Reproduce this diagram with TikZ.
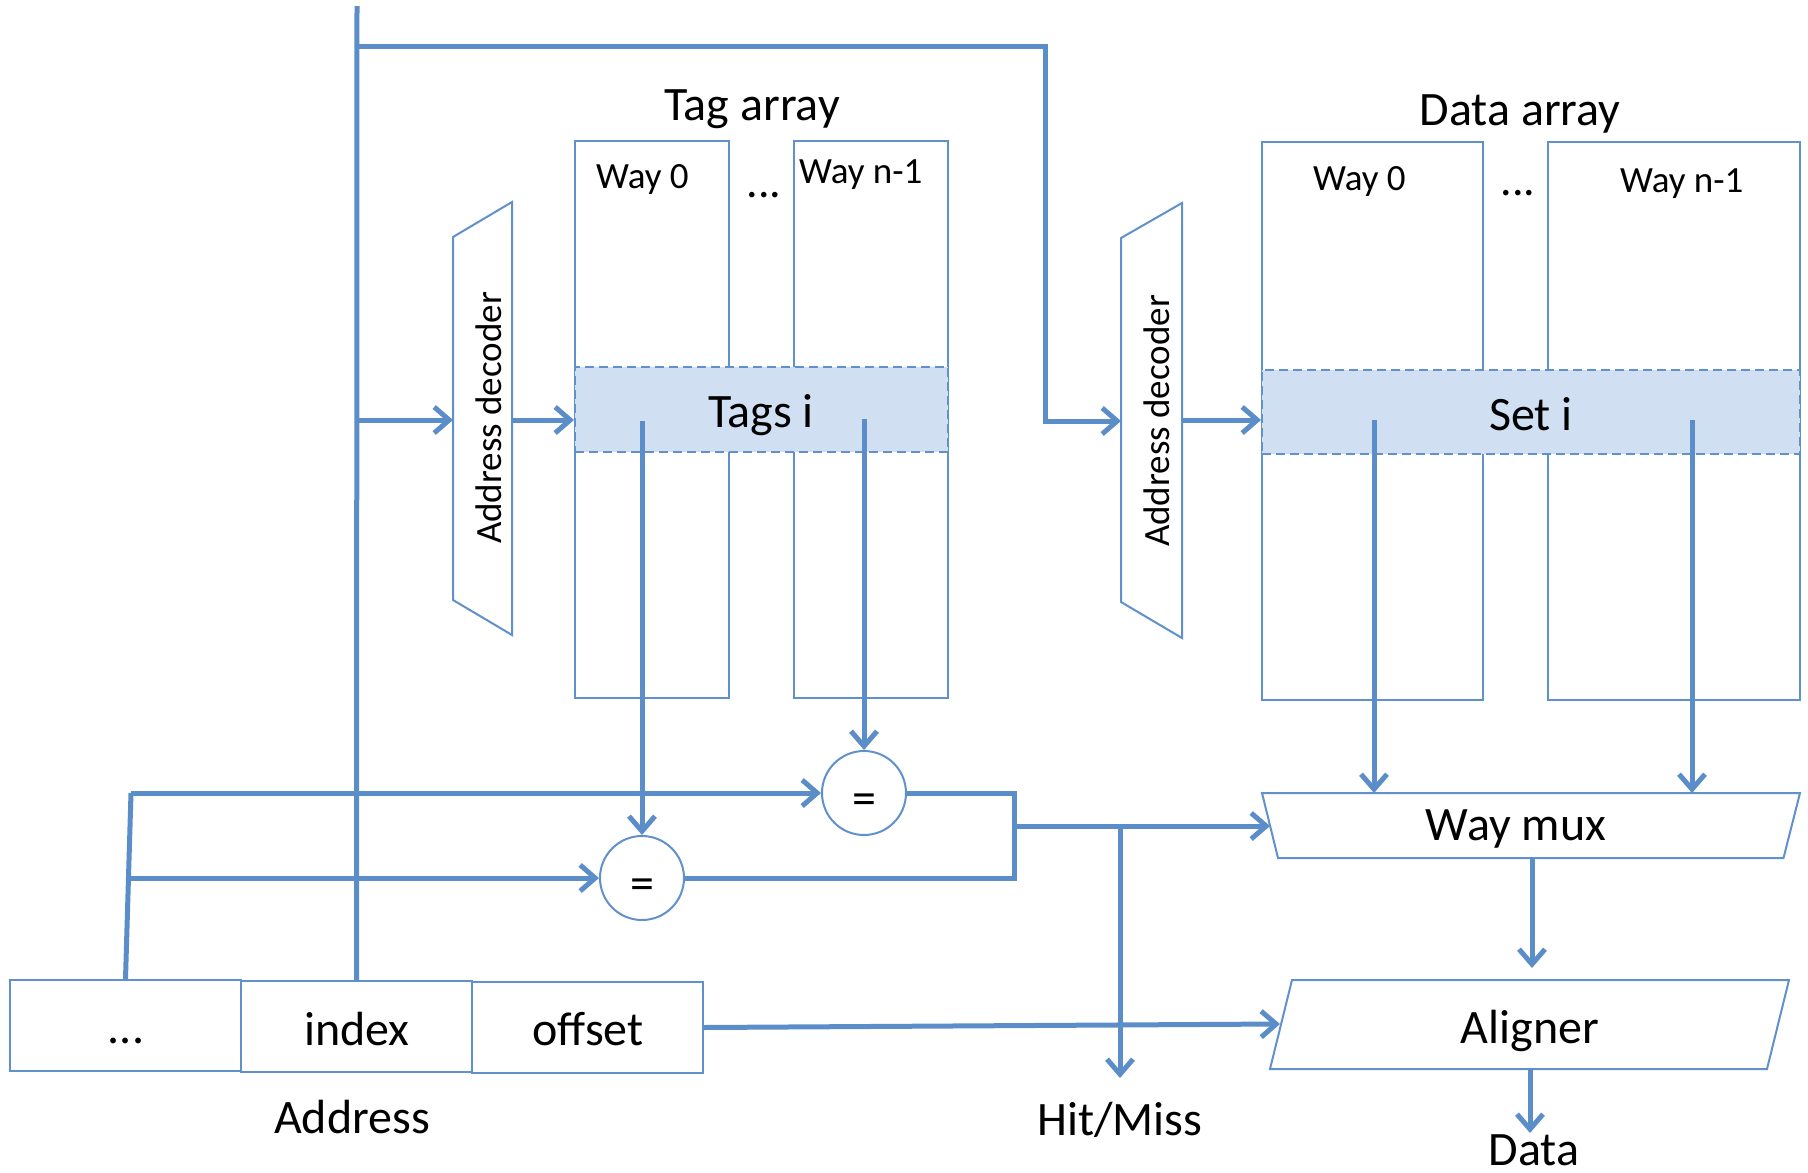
\documentclass[tikz,border=0pt]{standalone}
\usepackage{fontspec}
\setmainfont{Carlito}
\usetikzlibrary{arrows.meta}
\definecolor{wirec}{RGB}{91,142,201}
\definecolor{boxc}{RGB}{96,145,203}
\definecolor{setfill}{RGB}{208,224,242}
\begin{document}
\begin{tikzpicture}[x=1pt,y=-1pt,
  wire/.style={draw=wirec, line width=5pt},
  arr/.style={wire, -{Straight Barb[length=15pt,width=26pt,line width=5pt]}},
  box/.style={draw=boxc, line width=2pt, rectangle, inner sep=0pt, fill=white},
  shapeline/.style={draw=boxc, line width=2pt, fill=white},
  big/.style={font=\fontsize{48}{56}\selectfont, inner sep=0pt, anchor=base},
  mid/.style={font=\fontsize{37}{43}\selectfont, inner sep=0pt, anchor=base},
  eqc/.style={draw=boxc, line width=2pt, circle, minimum size=84pt, inner sep=0pt, fill=white}
]
\useasboundingbox (0,0) rectangle (1808,1173);

% ---------- Tag array ----------
\node[box, minimum width=154pt, minimum height=557pt] (tw0) at (652,419.5) {};
\node[box, minimum width=154pt, minimum height=557pt] (twn) at (871,419.5) {};
\node[box, dashed, dash pattern=on 9pt off 5pt, fill=setfill, minimum width=373pt, minimum height=85pt] (tags) at (761.5,409.5) {};
\node[big] (tagtitle) at (752,120) {Tag array};
\node[mid, anchor=base west] (tw0l) at (596,188) {Way 0};
\node[mid, anchor=base west] (twnl) at (799,183) {Way n-1};
\node[big, font=\fontsize{46}{50}\selectfont] (tdots) at (764,197) {...};
\node[big] (tagsl) at (761,427) {Tags i};

% ---------- Data array ----------
\node[box, minimum width=221pt, minimum height=558pt] (dw0) at (1372.5,421) {};
\node[box, minimum width=252pt, minimum height=558pt] (dwn) at (1674,421) {};
\node[box, dashed, dash pattern=on 9pt off 5pt, fill=setfill, minimum width=538pt, minimum height=84pt] (seti) at (1531,412) {};
\node[big] (datatitle) at (1520,125) {Data array};
\node[mid, anchor=base west] (dw0l) at (1313,190) {Way 0};
\node[mid, anchor=base west] (dwnl) at (1620,192) {Way n-1};
\node[big, font=\fontsize{46}{50}\selectfont] (ddots) at (1518,195) {...};
\node[big] (setil) at (1531,430) {Set i};

% ---------- Address decoders ----------
\draw[shapeline] (453,237) coordinate (d1a) -- (512,202) coordinate (d1b) -- (512,635) coordinate (d1c) -- (453,600) coordinate (d1d) -- cycle;
\node[mid, anchor=center, rotate=90] (dec1) at (488.5,418) {Address decoder};
\draw[shapeline] (1121,238) coordinate (d2a) -- (1182,203) coordinate (d2b) -- (1182,638) coordinate (d2c) -- (1121,602) coordinate (d2d) -- cycle;
\node[mid, anchor=center, rotate=90] (dec2) at (1157,421) {Address decoder};

% ---------- Comparators ----------
\node[eqc] (eq1) at (864,793) {};
\node[eqc] (eq2) at (642,878) {};
\node[big] (eq1l) at (864,814) {=};
\node[big] (eq2l) at (642,899) {=};

% ---------- Way mux and Aligner ----------
\draw[shapeline] (1262,793) coordinate (wmtl) -- (1800,793) coordinate (wmtr) -- (1783.5,858) coordinate (wmbr) -- (1278,858) coordinate (wmbl) -- cycle;
\node[big] (wml) at (1516,840) {Way mux};
\draw[shapeline] (1292,980) coordinate (altl) -- (1789,980) coordinate (altr) -- (1767,1069) coordinate (albr) -- (1270,1069) coordinate (albl) -- cycle;
\node[big] (all) at (1530,1043) {Aligner};

% ---------- Address ----------
\node[box, minimum width=231pt, minimum height=91pt] (dotsbox) at (125.5,1025.5) {};
\node[box, minimum width=231pt, minimum height=91pt] (idxbox) at (356.5,1026.5) {};
\node[box, minimum width=231pt, minimum height=91pt] (offbox) at (587.5,1027.5) {};
\node[big] (dotsl) at (126,1043) {...};
\node[big] (idxl) at (357,1045) {index};
\node[big] (offl) at (588,1045) {offset};
\node[big] (addrl) at (352,1133) {Address};
\node[big] (hml) at (1120,1135) {Hit/Miss};
\node[big] (datal) at (1534,1165) {Data};

% ---------- Connector points ----------
\coordinate (top) at (357,6);
\coordinate (jtop) at (357,46);
\coordinate (jmid) at (357,420);
\coordinate (cR) at (1045,46);
\coordinate (cR2) at (1045,421);
\coordinate (d1in) at (453,420);
\coordinate (d1out) at (512,420);
\coordinate (d2in) at (1121,421);
\coordinate (d2out) at (1182,420);
\coordinate (tL) at (642,421);
\coordinate (tR) at (864,419);
\coordinate (lt) at (131,793);
\coordinate (lm) at (128,878);
\coordinate (cmb1) at (1014,793);
\coordinate (cmb2) at (1014,878);
\coordinate (cmbm) at (1014,826);
\coordinate (wmin) at (1270,826);
\coordinate (hmj) at (1120,826);
\coordinate (hmtip) at (1120,1078);
\coordinate (sL) at (1374,420);
\coordinate (sR) at (1692,420);
\coordinate (wmb) at (1532,858);
\coordinate (altip) at (1532,968);
\coordinate (alin) at (1280,1024);
\coordinate (alb) at (1530,1069);
\coordinate (datatip) at (1530,1133);

% ---------- Connectors ----------
\draw[wire] (idxbox.north) -- (top);
\draw[arr] (jtop) -- (cR) -- (cR2) -- (d2in);
\draw[arr] (jmid) -- (d1in);
\draw[arr] (d1out) -- (d1out -| tags.west);
\draw[arr] (d2out) -- (d2out -| seti.west);
\draw[wire] (dotsbox.north) -- (lt);
\draw[arr] (lt) -- (eq1.west);
\draw[arr] (lm) -- (eq2.west);
\draw[arr] (tL) -- (eq2.north);
\draw[arr] (tR) -- (eq1.north);
\draw[wire] (eq1.east) -- (cmb1) -- (cmb2) -- (eq2.east);
\draw[arr] (cmbm) -- (wmin);
\draw[arr] (hmj) -- (hmtip);
\draw[arr] (sL) -- (sL |- wmtl);
\draw[arr] (sR) -- (sR |- wmtl);
\draw[arr] (wmb) -- (altip);
\draw[arr] (offbox.east) -- (alin);
\draw[arr] (alb) -- (datatip);
\end{tikzpicture}
\end{document}
